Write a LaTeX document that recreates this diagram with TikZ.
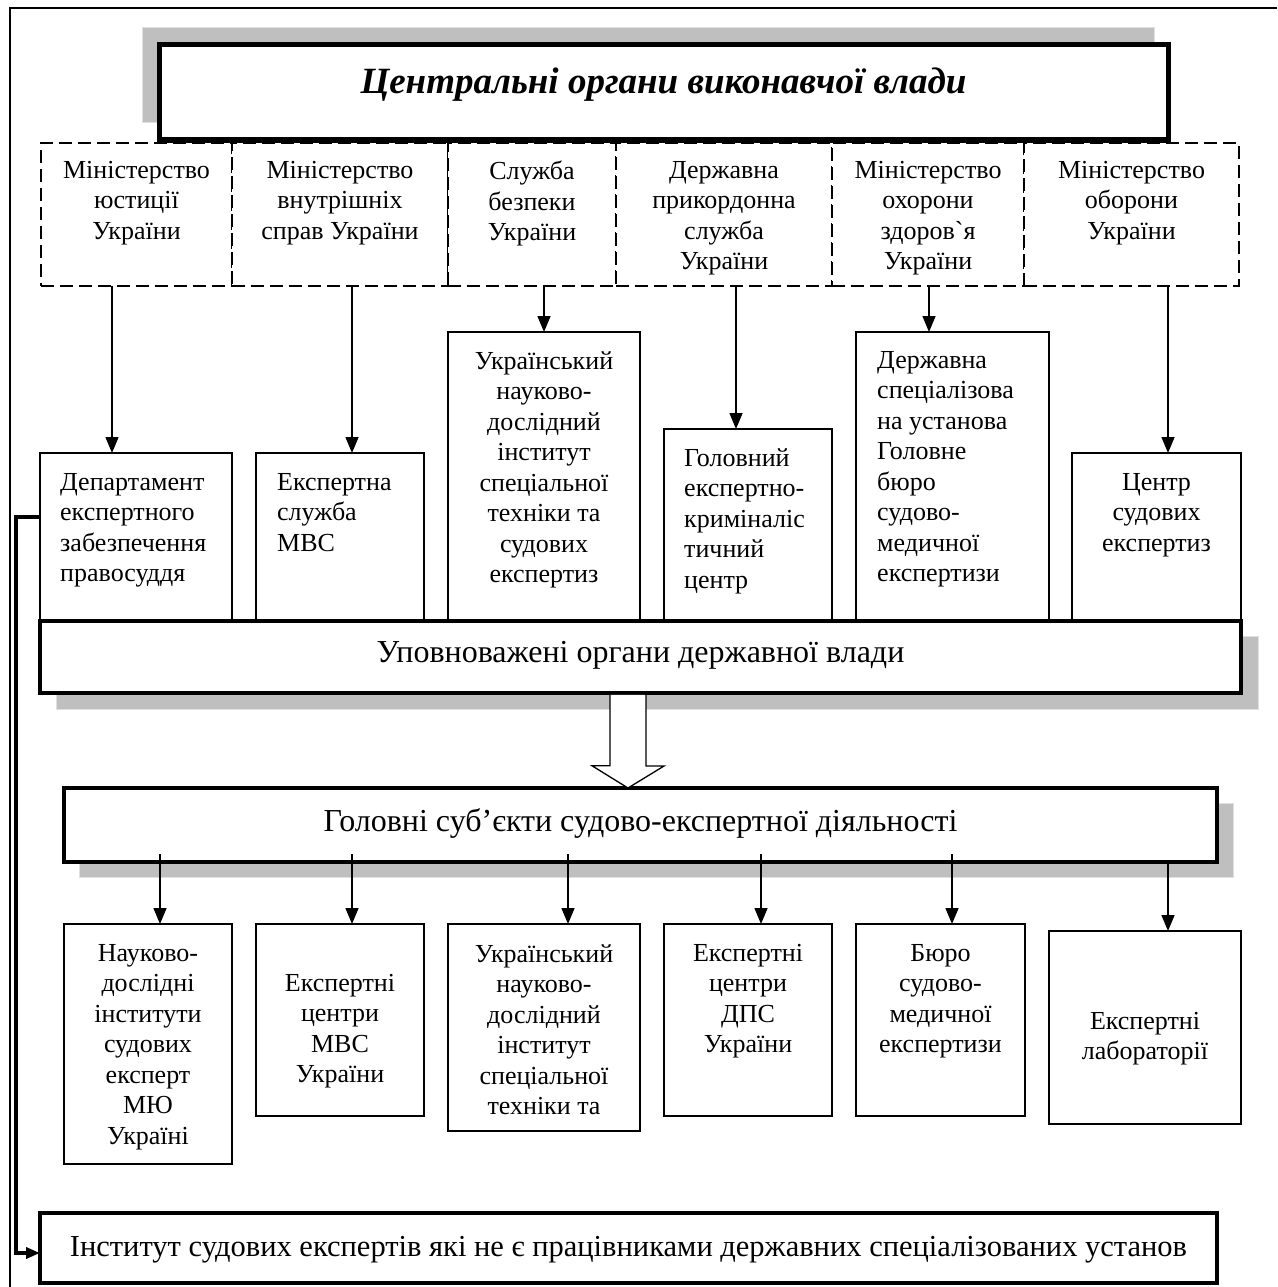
\documentclass[tikz,border=0pt]{standalone}
\usepackage{fontspec}
\setmainfont{Liberation Serif}
\usetikzlibrary{arrows.meta,positioning,calc}

\tikzset{
  box/.style={draw, line width=1.3pt, fill=white, inner sep=0pt, outer sep=0pt, anchor=north west},
  mbox/.style={box, dash pattern=on 13pt off 6pt},
  banner/.style={box, line width=3.5pt},
  shade/.style={fill=black!25, draw=black!12, line width=1pt},
  txt/.style={font=\fontsize{26}{30.5}\selectfont, inner sep=0pt, align=center},
  txtl/.style={txt, align=left},
  arr/.style={line width=1.5pt, -{Triangle[length=16pt,width=13pt]}},
}

\begin{document}
\begin{tikzpicture}[x=1pt,y=-1pt]
\useasboundingbox (0,0) rectangle (1277,1287);

% outer frame, only its top and left edges fall on the page
\draw[line width=1.3pt] (1277,8) -- (10,8) -- (10,1287);

% ministries (dashed row)
\node[mbox, minimum width=191pt, minimum height=143pt] (m1) at (41,143) {};
\node[mbox, minimum width=216pt, minimum height=143pt] (m2) at (232,143) {};
\node[mbox, minimum width=168pt, minimum height=143pt] (m3) at (448,143) {};
\node[mbox, minimum width=216pt, minimum height=143pt] (m4) at (616,143) {};
\node[mbox, minimum width=192pt, minimum height=143pt] (m5) at (832,143) {};
\node[mbox, minimum width=215pt, minimum height=143pt] (m6) at (1024,143) {};
\node[txt, below=18pt of m1.north] (m1t) {Міністерство\\юстиції\\України};
\node[txt, below=18pt of m2.north] (m2t) {Міністерство\\внутрішніх\\справ України};
\node[txt, below=18pt of m3.north] (m3t) {Служба\\безпеки\\України};
\node[txt, below=18pt of m4.north] (m4t) {Державна\\прикордонна\\служба\\України};
\node[txt, below=18pt of m5.north] (m5t) {Міністерство\\охорони\\здоров\textasciigrave я\\України};
\node[txt, below=18pt of m6.north] (m6t) {Міністерство\\оборони\\України};

% title with its shadow
\draw[shade] (142,28) rectangle (1154,123);
\node[box, line width=5pt, minimum width=1009pt, minimum height=95pt] (tb) at (159,45) {};
\node[anchor=base, inner sep=0pt, font=\fontsize{37}{44}\selectfont\bfseries\itshape]
  (tbt) at ([yshift=-1pt]tb.center) {Центральні органи виконавчої влади};

% expert services of the ministries
\node[box, minimum width=192pt, minimum height=168pt] (d1) at (40,453) {};
\node[box, minimum width=168pt, minimum height=168pt] (d2) at (256,453) {};
\node[box, minimum width=192pt, minimum height=289pt] (d3) at (448,332) {};
\node[box, minimum width=168pt, minimum height=192pt] (d4) at (664,429) {};
\node[box, minimum width=193pt, minimum height=289pt] (d5) at (856,332) {};
\node[box, minimum width=169pt, minimum height=168pt] (d6) at (1072,453) {};
\node[txtl, below right=20pt and 20pt of d1.north west] (d1t) {Департамент\\експертного\\забезпечення\\правосуддя};
\node[txtl, below right=20pt and 21pt of d2.north west] (d2t) {Експертна\\служба\\МВС};
\node[txt, below=19pt of d3.north] (d3t) {Український\\науково-\\дослідний\\інститут\\спеціальної\\техніки та\\судових\\експертиз};
\node[txtl, below right=19pt and 20pt of d4.north west] (d4t) {Головний\\експертно-\\криміналіс\\тичний\\центр};
\node[txtl, below right=19pt and 21pt of d5.north west] (d5t) {Державна\\спеціалізова\\на установа\\Головне\\бюро\\судово-\\медичної\\експертизи};
\node[txt, below=20pt of d6.north] (d6t) {Центр\\судових\\експертиз};

% arrows ministry -> service
\foreach \m/\d/\s in {m1/d1/-24.5, m2/d2/12, m3/d3/12, m4/d4/12, m5/d5/1, m6/d6/36.5}{
  \coordinate (a0) at ($(\m.south)+(\s,0)$);
  \draw[arr] (a0) -- (a0 |- \d.north);
}

% authorised bodies
\draw[shade] (56,636) rectangle (1258,709);
\node[banner, minimum width=1201pt, minimum height=72pt] (up) at (40,621) {};
\node[anchor=base, inner sep=0pt, font=\fontsize{32}{38}\selectfont]
  (upt) at ([yshift=-5pt]up.center) {Уповноважені органи державної влади};

% main subjects
\draw[shade] (79,803) rectangle (1233,877);
\node[banner, minimum width=1153pt, minimum height=74pt] (hg) at (64,788) {};
\node[anchor=base, inner sep=0pt, font=\fontsize{32}{38}\selectfont]
  (hgt) at ([yshift=-6pt]hg.center) {Головні суб’єкти судово-експертної діяльності};

% hollow arrow between the two banners
\coordinate (ha) at ($(up.south)+(-12.5,1.75)$);
\draw[line width=1.3pt, fill=white] (ha) ++(-18,0) -- ++(0,71) -- ++(-18,0)
  -- (ha |- hg.north) -- ++(36,-22) -- ++(-18,0) -- ++(0,-71);

% institutions
\node[box, minimum width=168pt, minimum height=240pt] (b1) at (64,924) {};
\node[box, minimum width=168pt, minimum height=192pt] (b2) at (256,924) {};
\node[box, minimum width=192pt, minimum height=207pt] (b3) at (448,924) {};
\node[box, minimum width=168pt, minimum height=192pt] (b4) at (664,924) {};
\node[box, minimum width=169pt, minimum height=192pt] (b5) at (856,924) {};
\node[box, minimum width=192pt, minimum height=193pt] (b6) at (1049,931) {};
\node[txt, below=20pt of b1.north] (b1t) {Науково-\\дослідні\\інститути\\судових\\експерт\\МЮ\\Україні};
\node[txt, below=50pt of b2.north] (b2t) {Експертні\\центри\\МВС\\України};
\node[txt, below=20pt of b3.north] (b3t) {Український\\науково-\\дослідний\\інститут\\спеціальної\\техніки та};
\node[txt, below=20pt of b4.north] (b4t) {Експертні\\центри\\ДПС\\України};
\node[txt, below=20pt of b5.north] (b5t) {Бюро\\судово-\\медичної\\експертизи};
\node[txt, below=81pt of b6.north] (b6t) {Експертні\\лабораторії};

% arrows main subjects -> institutions
\foreach \b/\s/\u in {b1/12/-8, b2/12/-8, b3/24/-8, b4/13/-8, b5/11.5/-8, b6/23/0}{
  \coordinate (a0) at ($(\b.north |- hg.south)+(\s,\u)$);
  \draw[arr] (a0) -- (a0 |- \b.north);
}

% independent experts
\node[box, line width=4pt, minimum width=1177pt, minimum height=70pt] (inst) at (40,1213) {};
\node[anchor=base, inner sep=0pt, font=\fontsize{30.5}{36}\selectfont]
  (instt) at ([yshift=-8pt]inst.center) {Інститут судових експертів які не є працівниками державних спеціалізованих установ};

% link from the department down to the experts
\draw[line width=3.5pt, -{Triangle[length=14pt,width=11pt]}] ([yshift=20pt]d1.west) -- ++(-24,0)
  |- ([yshift=-5pt]inst.west);

\end{tikzpicture}
\end{document}
